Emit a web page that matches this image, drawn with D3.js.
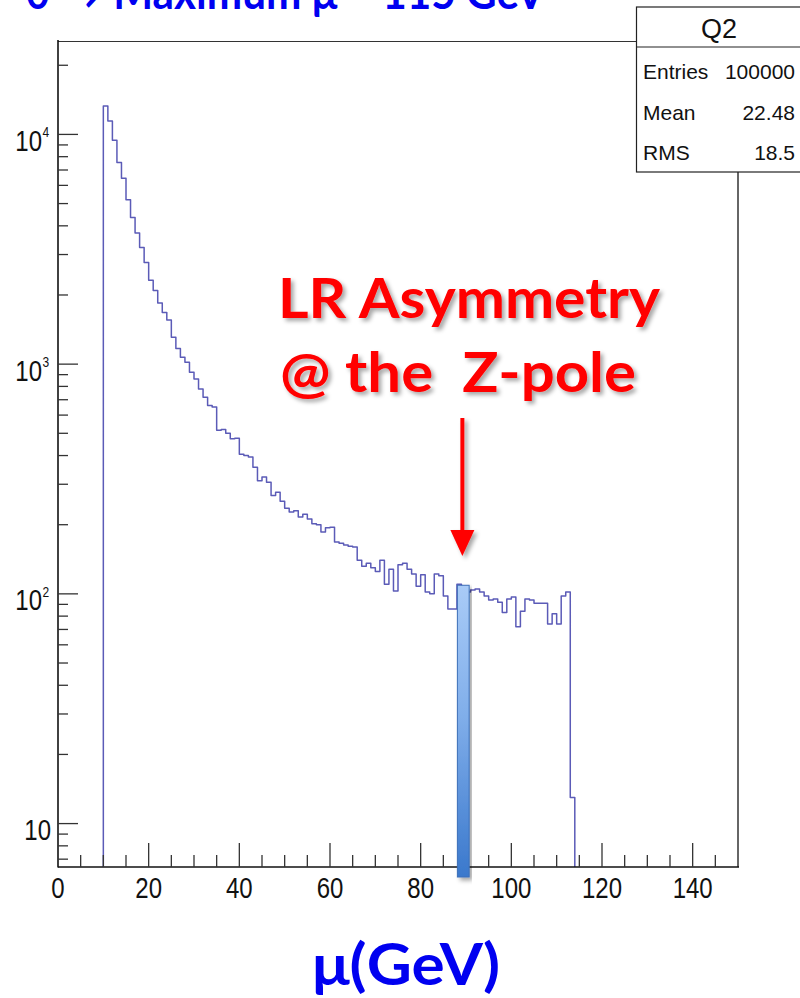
<!DOCTYPE html>
<html>
<head>
<meta charset="utf-8">
<script src="https://cdn.jsdelivr.net/npm/d3@7/dist/d3.min.js"></script>
<style>
  html, body { margin: 0; padding: 0; background: #fff; }
  svg { display: block; }
  .root { font-family: "Liberation Sans", Arial, sans-serif; }
  .cal { font-family: Lato, "Open Sans", sans-serif; font-weight: bold; white-space: pre; }
</style>
</head>
<body>
<svg id="chart" width="800" height="998"></svg>
<script>
// ---------------- data ----------------
const firstBinLow = 10;          // GeV
const binWidth = 1;              // GeV
const counts = [
  13300, 11450, 9440, 7540, 6450, 5190, 4350, 3720, 3220, 2770,   // 10-19
  2320, 2090, 1846, 1680, 1556, 1308, 1170, 1071, 1019, 921,      // 20-29
  862, 780, 718, 661, 650, 515, 520, 500, 473, 476,               // 30-39
  405, 400, 394, 356, 311, 323, 306, 268, 277, 253,               // 40-49
  236, 227, 230, 216, 222, 212, 202, 200, 186, 194,               // 50-59
  195, 168, 166, 163, 161, 160, 140, 132, 136, 130,               // 60-69
  125, 140, 110, 128, 103, 134, 136, 128, 122, 108,               // 70-79
  121, 102, 100, 122, 120, 98, 86, 86, 110, 107,                  // 80-89
  102, 104, 105, 102, 98, 94, 95, 92, 83, 95,                     // 90-99
  97, 72, 84, 95, 94, 91, 91, 91, 74, 82,                         // 100-109
  74, 98, 102, 13                                                 // 110-113
];
const xTicks = [0, 20, 40, 60, 80, 100, 120, 140];
const yDecades = [1, 2, 3, 4];
const statsTitle = "Q2";
const statsRows = [["Entries", "100000"], ["Mean", "22.48"], ["RMS", "18.5"]];
const zBand = [88.1, 90.7];      // highlighted Z-pole band (GeV)
const zBandTop = 109;
const arrowX = 89.2;
const titleText = "θ → Maximum μ = 115 GeV";
const annotLines = ["LR Asymmetry", "@ the  Z-pole"];
const xTitle = "μ(GeV)";

// ---------------- layout ----------------
const svg = d3.select("#chart");
const F = { l: 58, r: 738, t: 40, b: 867 };
const x = d3.scaleLinear().domain([0, 150]).range([F.l, F.r]);
const y = d3.scaleLog().domain([Math.pow(10, 0.811), Math.pow(10, 4.411)]).range([F.b, F.t]);
const yMin = y.domain()[0];

const defs = svg.append("defs");
const sh = defs.append("filter").attr("id", "shadow").attr("x", "-20%").attr("y", "-20%").attr("width", "140%").attr("height", "140%");
sh.append("feDropShadow").attr("dx", 3).attr("dy", 3).attr("stdDeviation", 2)
  .attr("flood-color", "#000").attr("flood-opacity", 0.35);
const gr = defs.append("linearGradient").attr("id", "barGrad").attr("x1", 0).attr("y1", 0).attr("x2", 0).attr("y2", 1);
gr.append("stop").attr("offset", "0%").attr("stop-color", "#a9cbf7");
gr.append("stop").attr("offset", "45%").attr("stop-color", "#80aeea");
gr.append("stop").attr("offset", "100%").attr("stop-color", "#3a78cc");

// frame
const frame = svg.append("g");
frame.append("line").attr("x1", F.l).attr("x2", F.r).attr("y1", F.t + 1.5).attr("y2", F.t + 1.5)
  .attr("stroke", "#333").attr("stroke-width", 1.2);
frame.append("line").attr("x1", F.r).attr("x2", F.r).attr("y1", F.t).attr("y2", F.b)
  .attr("stroke", "#333").attr("stroke-width", 1.5);

// histogram
const pts = [[firstBinLow, yMin]];
counts.forEach((c, i) => {
  const lo = firstBinLow + i * binWidth;
  pts.push([lo, c]);
  pts.push([lo + binWidth, c]);
});
pts.push([firstBinLow + counts.length * binWidth, yMin]);
const line = d3.line().x(d => x(d[0])).y(d => y(d[1]));
svg.append("path").attr("d", line(pts)).attr("fill", "none")
  .attr("stroke", "#3e3eaa").attr("stroke-width", 1.5).attr("stroke-opacity", 0.85)
  .attr("stroke-linejoin", "round");

// axes
const ax = svg.append("g").attr("class", "root");
ax.append("line").attr("x1", F.l).attr("x2", F.l).attr("y1", F.t).attr("y2", F.b + 0.5)
  .attr("stroke", "#111").attr("stroke-width", 1.6);
ax.append("line").attr("x1", F.l).attr("x2", F.r + 1).attr("y1", F.b).attr("y2", F.b)
  .attr("stroke", "#111").attr("stroke-width", 1.6);

// x ticks (every 5, long at 20)
for (let v = 5; v < 150; v += 5) {
  const major = v % 20 === 0;
  ax.append("line").attr("x1", x(v)).attr("x2", x(v)).attr("y1", F.b).attr("y2", F.b - (major ? 24 : 12))
    .attr("stroke", "#333").attr("stroke-width", 1.3);
}
xTicks.forEach(v => {
  ax.append("text").attr("transform", `translate(${x(v)},898) scale(0.8,1)`)
    .attr("text-anchor", "middle").attr("font-size", 30).attr("fill", "#111").text(v);
});

// y ticks
for (let d = 0; d <= 4; d++) {
  for (let m = 1; m <= 9; m++) {
    const v = m * Math.pow(10, d);
    if (v < yMin || v > y.domain()[1]) continue;
    ax.append("line").attr("x1", F.l).attr("x2", F.l + (m === 1 ? 20 : 10))
      .attr("y1", y(v)).attr("y2", y(v)).attr("stroke", "#333").attr("stroke-width", 1.3);
  }
}
yDecades.forEach(d => {
  const yy = y(Math.pow(10, d));
  if (d === 1) {
    ax.append("text").attr("transform", `translate(51,${yy + 16.5}) scale(0.8,1)`)
      .attr("text-anchor", "end").attr("font-size", 30).attr("fill", "#111").text("10");
  } else {
    ax.append("text").attr("transform", `translate(42,${yy + 16.5}) scale(0.8,1)`)
      .attr("text-anchor", "end").attr("font-size", 30).attr("fill", "#111").text("10");
    ax.append("text").attr("transform", `translate(42.5,${yy + 3}) scale(0.8,1)`)
      .attr("text-anchor", "start").attr("font-size", 15).attr("fill", "#111").text(String(d));
  }
});

// Z-pole band
svg.append("rect").attr("x", x(zBand[0])).attr("y", y(zBandTop))
  .attr("width", x(zBand[1]) - x(zBand[0])).attr("height", F.b + 10 - y(zBandTop))
  .attr("fill", "url(#barGrad)").attr("stroke", "#3c6fb8").attr("stroke-width", 1)
  .attr("filter", "url(#shadow)");

// stats box
const sb = svg.append("g").attr("class", "root");
sb.append("rect").attr("x", 636.5).attr("y", 7).attr("width", 175).attr("height", 165)
  .attr("fill", "#fff").attr("stroke", "#222").attr("stroke-width", 1.2);
sb.append("line").attr("x1", 636).attr("x2", 800).attr("y1", 47).attr("y2", 47)
  .attr("stroke", "#222").attr("stroke-width", 1.2);
sb.append("text").attr("x", 719).attr("y", 38).attr("text-anchor", "middle")
  .attr("font-size", 27).attr("fill", "#111").text(statsTitle);
statsRows.forEach((r, i) => {
  const by = 79 + i * 40.5;
  sb.append("text").attr("x", 643).attr("y", by).attr("font-size", 21).attr("fill", "#111").text(r[0]);
  sb.append("text").attr("x", 795).attr("y", by).attr("text-anchor", "end")
    .attr("font-size", 21).attr("fill", "#111").text(r[1]);
});

// title (cut off at top)
svg.append("text").attr("class", "cal").attr("x", 25).attr("y", 9)
  .attr("font-size", 46).attr("fill", "#0000f0")
  .attr("textLength", 520).attr("lengthAdjust", "spacingAndGlyphs").text(titleText);

// annotation
const an = svg.append("g").attr("filter", "url(#shadow)");
an.append("text").attr("class", "cal").attr("x", 278).attr("y", 318).attr("font-size", 56)
  .attr("fill", "#ff0000").attr("textLength", 382).attr("lengthAdjust", "spacingAndGlyphs").text(annotLines[0]);
an.append("text").attr("class", "cal").attr("x", 280).attr("y", 392).attr("font-size", 56)
  .attr("fill", "#ff0000").attr("textLength", 356).attr("lengthAdjust", "spacingAndGlyphs").text(annotLines[1]);
const ax0 = x(arrowX);
an.append("line").attr("x1", ax0).attr("x2", ax0).attr("y1", 418).attr("y2", 534)
  .attr("stroke", "#ff0000").attr("stroke-width", 4);
an.append("path").attr("d", `M${ax0 - 12},530 L${ax0 + 12},530 L${ax0},556 Z`).attr("fill", "#ff0000");

// x title
svg.append("text").attr("class", "cal").attr("x", 312).attr("y", 985).attr("font-size", 58)
  .attr("fill", "#0000f0").attr("textLength", 188).attr("lengthAdjust", "spacingAndGlyphs").text(xTitle);
</script>
</body>
</html>
